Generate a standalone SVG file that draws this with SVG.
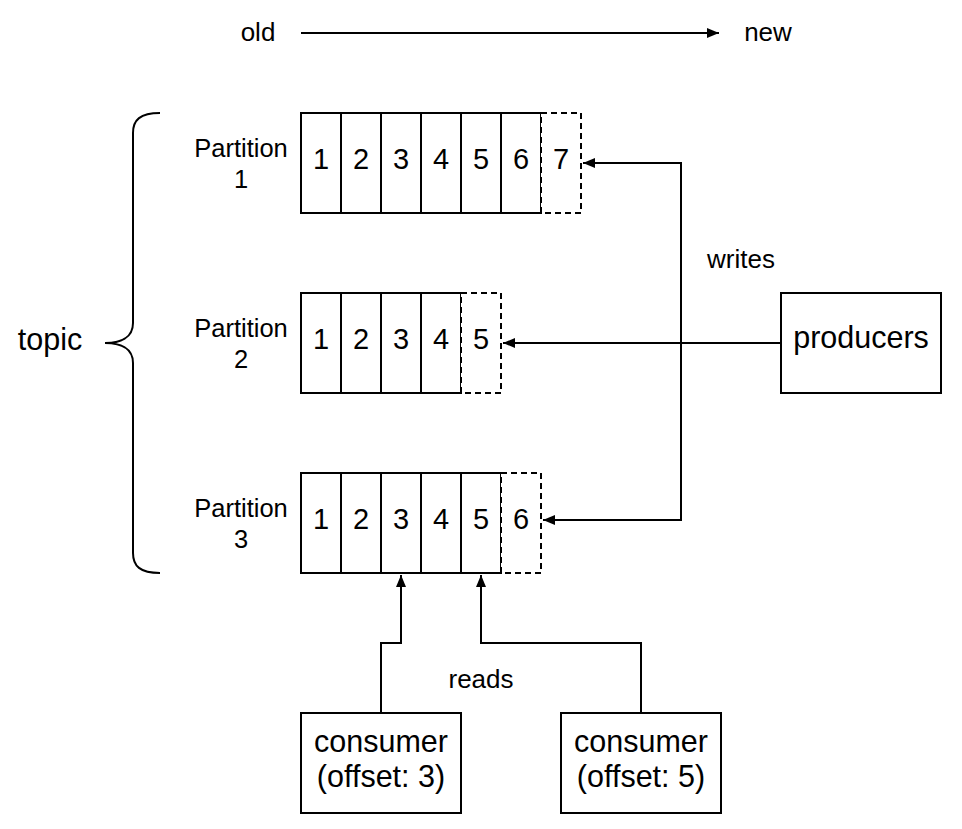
<svg xmlns="http://www.w3.org/2000/svg" width="962" height="829" viewBox="0 0 962 829">
<defs>
<style>
.t{font-family:"Liberation Sans",Arial,sans-serif;fill:#000;text-anchor:middle}
.cell{fill:#fff;stroke:#000;stroke-width:2}
.new{fill:#fff;stroke:#000;stroke-width:2;stroke-dasharray:6 4}
.box{fill:#fff;stroke:#000;stroke-width:2}
.ln{fill:none;stroke:#000;stroke-width:2}
.d{font-size:29px}
.p{font-size:25.5px}
.b{font-size:30.5px}
.s{font-size:26px}
</style>
<marker id="ah" viewBox="0 0 12 10" refX="12" refY="5" markerWidth="12" markerHeight="10" markerUnits="userSpaceOnUse" orient="auto">
<path d="M0,0 L12,5 L0,10 z" fill="#000"/>
</marker>
</defs>
<rect width="962" height="829" fill="#fff"/>

<g id="timeline">
<text class="t s" x="258" y="41">old</text>
<line class="ln" x1="301" y1="33" x2="719" y2="33" marker-end="url(#ah)"/>
<text class="t s" x="768" y="41">new</text>
</g>

<g id="topic">
<path class="ln" d="M160,113 C140,113 133,120 133,133 L133,323 C133,338 120,343 105,343 C120,343 133,348 133,363 L133,553 C133,566 140,573 160,573"/>
<text class="t b" x="50" y="350">topic</text>
</g>

<g id="partition1">
<text class="t p" x="241" y="157">Partition</text>
<text class="t p" x="241" y="188">1</text>
<rect class="cell" x="301" y="113" width="40" height="100"/>
<rect class="cell" x="341" y="113" width="40" height="100"/>
<rect class="cell" x="381" y="113" width="40" height="100"/>
<rect class="cell" x="421" y="113" width="40" height="100"/>
<rect class="cell" x="461" y="113" width="40" height="100"/>
<rect class="cell" x="501" y="113" width="40" height="100"/>
<rect class="new" x="541" y="113" width="40" height="100"/>
<text class="t d" x="321" y="169">1</text>
<text class="t d" x="361" y="169">2</text>
<text class="t d" x="401" y="169">3</text>
<text class="t d" x="441" y="169">4</text>
<text class="t d" x="481" y="169">5</text>
<text class="t d" x="521" y="169">6</text>
<text class="t d" x="561" y="169">7</text>
</g>

<g id="partition2">
<text class="t p" x="241" y="337">Partition</text>
<text class="t p" x="241" y="368">2</text>
<rect class="cell" x="301" y="293" width="40" height="100"/>
<rect class="cell" x="341" y="293" width="40" height="100"/>
<rect class="cell" x="381" y="293" width="40" height="100"/>
<rect class="cell" x="421" y="293" width="40" height="100"/>
<rect class="new" x="461" y="293" width="40" height="100"/>
<text class="t d" x="321" y="349">1</text>
<text class="t d" x="361" y="349">2</text>
<text class="t d" x="401" y="349">3</text>
<text class="t d" x="441" y="349">4</text>
<text class="t d" x="481" y="349">5</text>
</g>

<g id="partition3">
<text class="t p" x="241" y="517">Partition</text>
<text class="t p" x="241" y="548">3</text>
<rect class="cell" x="301" y="473" width="40" height="100"/>
<rect class="cell" x="341" y="473" width="40" height="100"/>
<rect class="cell" x="381" y="473" width="40" height="100"/>
<rect class="cell" x="421" y="473" width="40" height="100"/>
<rect class="cell" x="461" y="473" width="40" height="100"/>
<rect class="new" x="501" y="473" width="40" height="100"/>
<text class="t d" x="321" y="529">1</text>
<text class="t d" x="361" y="529">2</text>
<text class="t d" x="401" y="529">3</text>
<text class="t d" x="441" y="529">4</text>
<text class="t d" x="481" y="529">5</text>
<text class="t d" x="521" y="529">6</text>
</g>

<g id="producers">
<rect class="box" x="781" y="293" width="160" height="100"/>
<text class="t b" x="861" y="348">producers</text>
</g>

<g id="consumer1">
<rect class="box" x="301" y="713" width="160" height="100"/>
<text class="t b" x="381" y="752">consumer</text>
<text class="t b" x="381" y="787">(offset: 3)</text>
</g>

<g id="consumer2">
<rect class="box" x="561" y="713" width="160" height="100"/>
<text class="t b" x="641" y="752">consumer</text>
<text class="t b" x="641" y="787">(offset: 5)</text>
</g>

<g id="connectors">
<path class="ln" d="M781,343 L503,343" marker-end="url(#ah)"/>
<path class="ln" d="M681,343 L681,163 L583,163" marker-end="url(#ah)"/>
<path class="ln" d="M681,343 L681,520 L543,520" marker-end="url(#ah)"/>
<path class="ln" d="M381,713 L381,643 L401,643 L401,575" marker-end="url(#ah)"/>
<path class="ln" d="M641,713 L641,643 L481,643 L481,575" marker-end="url(#ah)"/>
<text class="t s" x="741" y="268">writes</text>
<text class="t s" x="481" y="688">reads</text>
</g>
</svg>
